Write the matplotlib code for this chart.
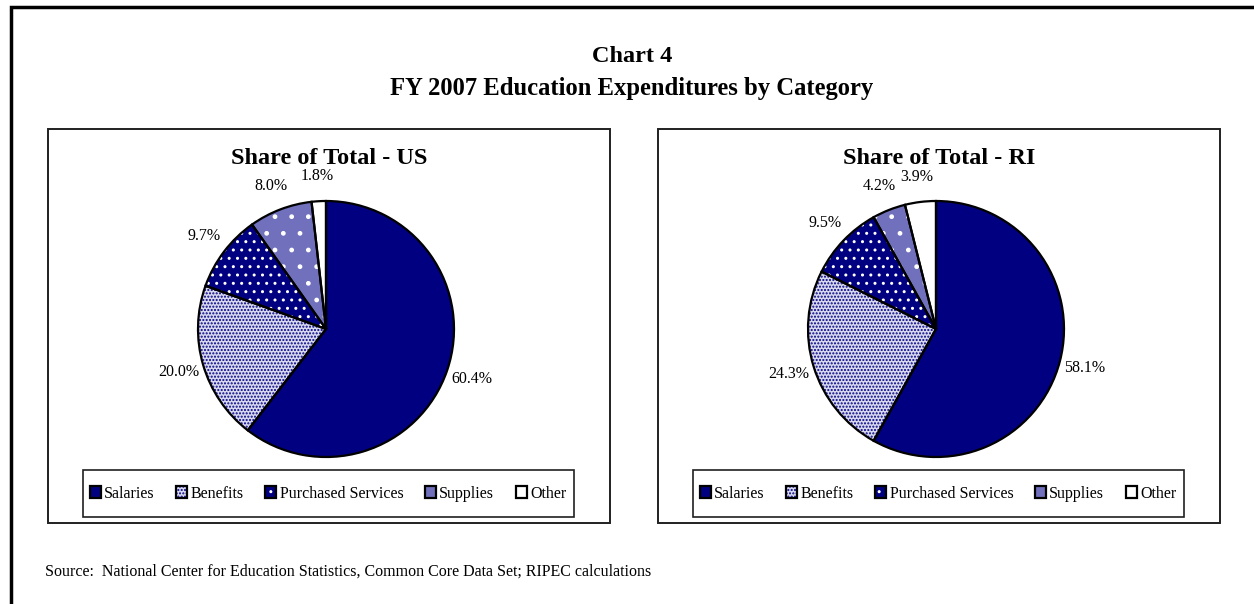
import numpy as np
import matplotlib
matplotlib.use("Agg")
import matplotlib.pyplot as plt
from matplotlib.patches import Patch, Rectangle

plt.rcParams['font.family'] = ['Liberation Serif', 'DejaVu Serif']
plt.rcParams['hatch.linewidth'] = 1.0

# expenditure shares (%)
categories = ["Salaries", "Benefits", "Purchased Services", "Supplies", "Other"]
us_share = [60.4, 20.0, 9.7, 8.0, 1.8]
ri_share = [58.1, 24.3, 9.5, 4.2, 3.9]
panel_titles = ["Share of Total - US", "Share of Total - RI"]

# fill, hatch pattern and hatch colour for each category
face_cols = ["#000080", "#d8d8f0", "#000080", "#7070bc", "#ffffff"]
hatches = ["", ".....", "..", ".", ""]
hatch_cols = ["#000080", "#000080", "#ffffff", "#ffffff", "#ffffff"]

W, H = 1254, 604
fig = plt.figure(figsize=(W / 100, H / 100), dpi=100)
ax = fig.add_axes([0, 0, 1, 1])


def py(y):
    # pixel row (from top) -> data y
    return H - y


# outer frame (runs off the right and bottom edges)
ax.add_patch(Rectangle((11, py(640)), 1300, 633, fill=False, lw=2.5, ec="black"))

ax.text(W / 2 + 5, py(56), "Chart 4", ha="center", va="center",
        fontsize=17.5, fontweight="bold")
ax.text(W / 2 + 5, py(89), "FY 2007 Education Expenditures by Category",
        ha="center", va="center", fontsize=17.7, fontweight="bold")

panels = [(48, us_share), (658, ri_share)]
for (x0, vals), title in zip(panels, panel_titles):
    # panel frame
    ax.add_patch(Rectangle((x0, py(523)), 562, 394, fill=False, lw=1.4, ec="#202020"))
    cx, cy, r = x0 + 278, py(329), 128
    ax.text(x0 + 281, py(158), title, ha="center", va="center",
            fontsize=17.5, fontweight="bold")

    wedges, _ = ax.pie(vals, startangle=90, counterclock=False, center=(cx, cy),
                       radius=r, colors=face_cols, wedgeprops=dict(linewidth=0))
    for w, h, hc in zip(wedges, hatches, hatch_cols):
        w.set_hatch(h)
        w.set_edgecolor(hc)
    edges, _ = ax.pie(vals, startangle=90, counterclock=False, center=(cx, cy),
                      radius=r, wedgeprops=dict(fill=False, edgecolor="black", linewidth=1.6))

    for w, v in zip(edges, vals):
        ang = np.deg2rad((w.theta1 + w.theta2) / 2)
        ax.text(cx + 1.2 * r * np.cos(ang), cy + 1.2 * r * np.sin(ang), f"{v:.1f}%",
                ha="center", va="center", fontsize=11.5)

    # legend box
    ax.add_patch(Rectangle((x0 + 35, py(517)), 491, 47, fill=False, lw=1.2, ec="#202020"))
    handles = [(Patch(facecolor=fc, hatch=h, edgecolor=hc, lw=0),
                Patch(fill=False, edgecolor="black", lw=1.6))
               for fc, h, hc in zip(face_cols, hatches, hatch_cols)]
    fig.legend(handles, categories, loc="center", bbox_to_anchor=(x0 + 280, py(493.5)),
               bbox_transform=ax.transData, ncol=5, frameon=False, fontsize=11.5,
               handlelength=0.7, handleheight=0.7, handletextpad=0.2,
               columnspacing=1.35, borderpad=0)

ax.text(45, py(572), "Source:  National Center for Education Statistics, Common Core Data Set; "
        "RIPEC calculations", ha="left", va="center", fontsize=11.5)

ax.set_xlim(0, W)
ax.set_ylim(0, H)
ax.set_aspect("equal")
ax.axis("off")

fig.savefig("out.png", dpi=100)
